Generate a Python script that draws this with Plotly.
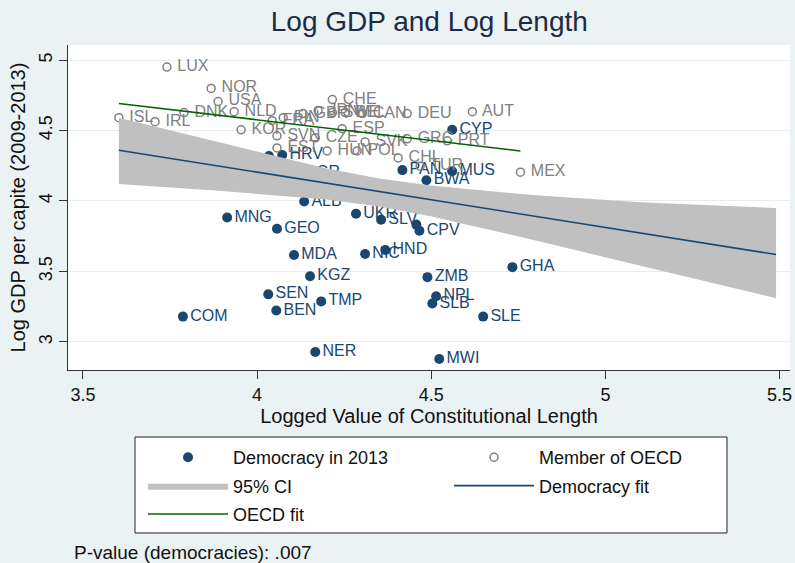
"""Log GDP vs logged constitutional length, Stata-style scatter with fits."""

import plotly.graph_objects as go

NAVY = "#1A476F"
GREY = "#808080"
FONT = "Liberation Sans, Arial, sans-serif"

# democracies in 2013 (filled markers)
DEMO_CODES = ["CYP", "LVA", "HRV", "BGR", "PAN", "MUS", "BWA", "ALB", "MNG", "GEO",
              "UKR", "SLV", "PRY", "CPV", "MDA", "NIC", "HND", "KGZ", "ZMB", "GHA",
              "SEN", "TMP", "BEN", "COM", "NPL", "SLB", "SLE", "NER", "MWI"]
DEMO_X = [4.560, 4.034, 4.072, 4.118, 4.417, 4.560, 4.486, 4.135, 3.914, 4.057,
          4.284, 4.356, 4.457, 4.466, 4.106, 4.310, 4.368, 4.152, 4.489, 4.733,
          4.032, 4.184, 4.055, 3.787, 4.514, 4.503, 4.649, 4.167, 4.523]
DEMO_Y = [4.505, 4.319, 4.326, 4.197, 4.219, 4.211, 4.147, 3.996, 3.882, 3.803,
          3.910, 3.867, 3.832, 3.789, 3.616, 3.624, 3.652, 3.466, 3.459, 3.530,
          3.337, 3.287, 3.222, 3.179, 3.323, 3.272, 3.179, 2.928, 2.878]
DEMO_LABELS = ["CYP", "", "HRV", "BGR", "PAN", "MUS", "BWA", "ALB", "MNG", "GEO",
               "UKR", "SLV", "", "CPV", "MDA", "NIC", "HND", "KGZ", "ZMB", "GHA",
               "SEN", "TMP", "BEN", "COM", "NPL", "SLB", "SLE", "NER", "MWI"]

# OECD members (hollow markers)
OECD_CODES = ["LUX", "NOR", "USA", "DNK", "NLD", "ISL", "IRL", "KOR", "FRA", "FIN",
              "GBR", "JPN", "SWE", "BEL", "CAN", "CHE", "DEU", "AUT", "SVN", "EST",
              "CZE", "ESP", "SVK", "HUN", "POL", "CHL", "TUR", "GRC", "PRT", "MEX"]
OECD_X = [3.741, 3.868, 3.888, 3.790, 3.934, 3.603, 3.707, 3.954, 4.043, 4.075,
          4.132, 4.175, 4.216, 4.253, 4.302, 4.216, 4.431, 4.618, 4.057, 4.057,
          4.167, 4.244, 4.310, 4.201, 4.287, 4.405, 4.468, 4.431, 4.546, 4.756]
OECD_Y = [4.950, 4.799, 4.706, 4.627, 4.634, 4.591, 4.563, 4.505, 4.570, 4.591,
          4.620, 4.642, 4.627, 4.627, 4.620, 4.720, 4.620, 4.634, 4.462, 4.376,
          4.448, 4.513, 4.419, 4.355, 4.355, 4.305, 4.247, 4.441, 4.427, 4.204]

# linear fits and confidence band
DEMO_FIT_X = [3.603, 5.49]
DEMO_FIT_Y = [4.36, 3.62]
OECD_FIT_X = [3.603, 4.756]
OECD_FIT_Y = [4.692, 4.355]
CI_X = [3.603, 3.9, 4.2, 4.35, 4.5, 4.8, 5.1, 5.49]
CI_UPPER = [4.59, 4.41, 4.23, 4.16, 4.11, 4.04, 3.99, 3.95]
CI_LOWER = [4.12, 4.07, 4.01, 3.96, 3.89, 3.72, 3.54, 3.31]

X_TICKS = [3.5, 4, 4.5, 5, 5.5]
Y_TICKS = [3, 3.5, 4, 4.5, 5]

fig = go.Figure()

fig.add_trace(go.Scatter(
    x=DEMO_X, y=DEMO_Y, text=DEMO_LABELS, mode="markers+text",
    name="Democracy in 2013", textposition="middle right", legendgroup="a",
    marker=dict(color=NAVY, size=10),
    textfont=dict(color=NAVY, size=16, family=FONT),
))
fig.add_trace(go.Scatter(
    x=OECD_X, y=OECD_Y, text=[" " + c for c in OECD_CODES], mode="markers+text",
    name="Member of OECD", textposition="middle right", legend="legend2", legendgroup="d",
    marker=dict(color="rgba(0,0,0,0)", size=8, line=dict(color=GREY, width=1.5)),
    textfont=dict(color=GREY, size=16, family=FONT),
))

# CI band drawn on top of the points, like Stata does
fig.add_trace(go.Scatter(
    x=CI_X, y=CI_LOWER, mode="lines", line=dict(width=0),
    showlegend=False, hoverinfo="skip",
))
fig.add_trace(go.Scatter(
    x=CI_X, y=CI_UPPER, mode="lines", line=dict(width=0), legendgroup="b",
    fill="tonexty", fillcolor="#C0C0C0", name="95% CI",
))
fig.add_trace(go.Scatter(
    x=DEMO_FIT_X, y=DEMO_FIT_Y, mode="lines", name="Democracy fit",
    legend="legend2", legendgroup="e",
    line=dict(color=NAVY, width=1.6),
))
fig.add_trace(go.Scatter(
    x=OECD_FIT_X, y=OECD_FIT_Y, mode="lines", name="OECD fit", legendgroup="c",
    line=dict(color="#006400", width=1.6),
))

fig.add_annotation(
    text="P-value (democracies): .007", xref="paper", yref="paper",
    x=0.005, y=-0.563, xanchor="left", yanchor="middle", showarrow=False,
    font=dict(size=19, color="#111111", family=FONT),
)

# frame around the two legend columns
fig.add_shape(
    type="rect", xref="paper", yref="paper", x0=0.0928, x1=0.9127, y0=-0.5015, y1=-0.2062,
    line=dict(color="#222222", width=1), fillcolor="white", layer="below",
)

legend_common = dict(
    orientation="v", yanchor="top", xanchor="left", y=-0.2125,
    bgcolor="rgba(0,0,0,0)", borderwidth=0, itemwidth=80,
    font=dict(size=18), tracegroupgap=2, traceorder="grouped",
)

fig.update_layout(
    width=795, height=563,
    paper_bgcolor="#EAF2F3", plot_bgcolor="white",
    margin=dict(l=68, r=5, t=45, b=193, autoexpand=False),
    font=dict(family=FONT, color="#111111"),
    title=dict(text="Log GDP and Log Length", x=0.54, y=0.962, xanchor="center",
               yanchor="middle", font=dict(size=28, color="#1C2B45")),
    showlegend=True,
    legend=dict(x=0.1039, **legend_common),
    legend2=dict(x=0.5277, **legend_common),
    xaxis=dict(
        range=[3.457, 5.53], tickvals=X_TICKS, ticktext=["3.5", "4", "4.5", "5", "5.5"],
        automargin=False,
        showgrid=False, zeroline=False, showline=True, linecolor="#333333",
        ticks="outside", ticklen=8, tickcolor="#333333",
        tickfont=dict(size=18), title=dict(text="Logged Value of Constitutional Length",
                                           font=dict(size=20), standoff=4),
    ),
    yaxis=dict(
        range=[2.80, 5.107], tickvals=Y_TICKS, ticktext=["3", "3.5", "4", "4.5", "5"],
        automargin=False,
        tickangle=-90, showgrid=True, gridcolor="#E3EEF1", zeroline=False,
        showline=True, linecolor="#333333", ticks="outside", ticklen=8,
        tickcolor="#333333", tickfont=dict(size=18),
        title=dict(text="Log GDP per capite (2009-2013)", font=dict(size=20), standoff=4),
    ),
)

# drop the default page margin so the figure sits at the window's corner
fig.write_html(
    "out.html",
    config={"displayModeBar": False},
    post_script="document.body.style.margin='0';",
)
